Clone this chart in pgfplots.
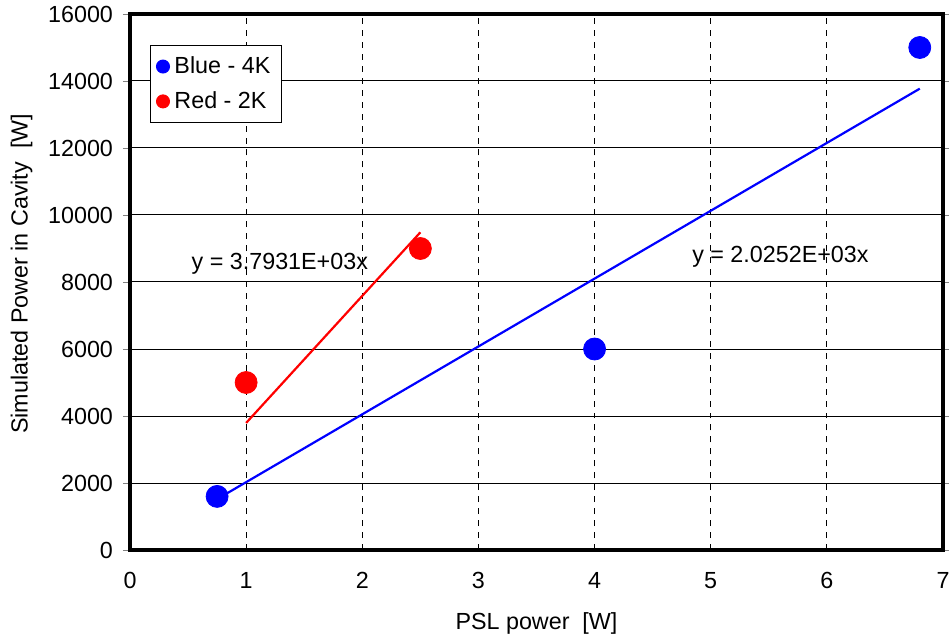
\documentclass[border=0pt]{standalone}
\usepackage{pgfplots}
\pgfplotsset{compat=1.18}
\usepackage{fontspec}
\setmainfont{Liberation Sans}
\begin{document}
\begin{tikzpicture}
\useasboundingbox (-65bp,-45bp) rectangle (409.5bp,275bp);
\begin{axis}[
  at={(0,0)}, anchor=south west,
  scale only axis, width=406.5bp, height=268bp,
  xmin=0, xmax=7, ymin=0, ymax=16000,
  xtick={0,...,7}, ytick={0,2000,...,16000},
  scaled y ticks=false,
  /pgf/number format/assume math mode=true,
  yticklabel style={/pgf/number format/1000 sep={}, xshift=-1.5bp},
  xticklabel style={yshift=-4bp},
  font=\fontsize{11.7}{14}\selectfont,
  tick align=outside,
  major tick length=3.5bp,
  major x tick style={draw=none},
  axis line style={line width=2bp},
  xmajorgrids, ymajorgrids,
  every major x grid/.style={black, dashed, line width=0.5bp},
  grid style={black, line width=0.5bp},
  xlabel={PSL power\ \ [W]},
  xlabel style={yshift=-5bp},
  ylabel={Simulated Power in Cavity\ \ [W]},
  ylabel style={at={(ticklabel cs:0.515)}, yshift=1bp},
  legend style={at={(rel axis cs:0.0246,0.942)}, anchor=north west,
    draw=black, line width=0.5bp, font=\fontsize{11.7}{14}\selectfont,
    row sep=2.5bp, inner sep=3bp,
    nodes={inner sep=2.5bp}},
  legend image post style={mark size=3.25bp},
  legend cell align=left,
]
\addplot[only marks, mark=*, mark size=5.5bp, color=blue, mark options={fill=blue, draw=blue}]
  coordinates {(0.75,1600) (4,6000) (6.8,15000)};
\addlegendentry{Blue - 4K}
\addplot[only marks, mark=*, mark size=5.5bp, color=red, mark options={fill=red, draw=red}]
  coordinates {(1,5000) (2.5,9000)};
\addlegendentry{Red - 2K}
\addplot[blue, line width=1.1bp, forget plot] coordinates {(0.75,1518.9) (6.8,13771.4)};
\addplot[red, line width=1.1bp, forget plot] coordinates {(1,3793.1) (2.5,9482.8)};
\node[font=\fontsize{11.7}{14}\selectfont] at (axis cs:1.29,8537) {y = 3.7931E+03x};
\node[font=\fontsize{11.7}{14}\selectfont] at (axis cs:5.6,8746) {y = 2.0252E+03x};
\end{axis}
\end{tikzpicture}
\end{document}
